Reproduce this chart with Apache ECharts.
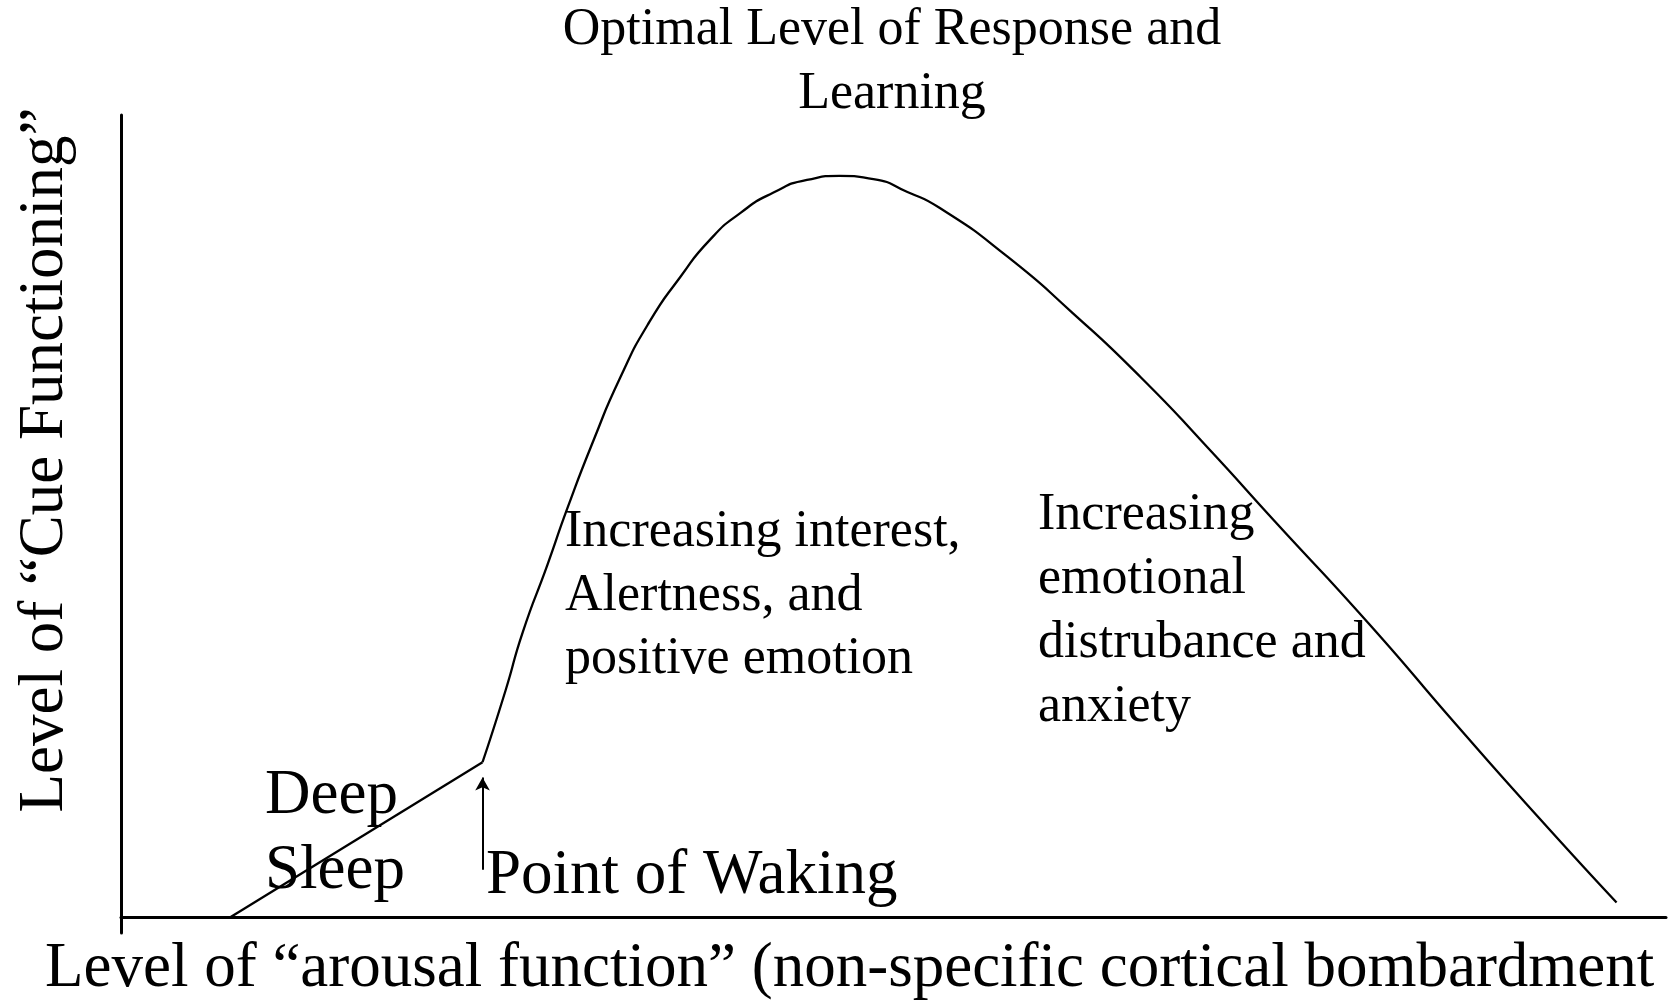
<!DOCTYPE html>
<html>
<head>
<meta charset="utf-8">
<title>Arousal and cue functioning</title>
<script src="https://cdn.jsdelivr.net/npm/echarts@6/dist/echarts.min.js"></script>
<style>
html,body{margin:0;padding:0;background:#fff;}
#chart{width:1669px;height:1001px;}
</style>
</head>
<body>
<div id="chart"></div>
<script>
// level of arousal (x) vs level of cue functioning (y)
var sleepLine = [[7.1, 0], [23.4, 19.3]];
var arousalCurve = [
    [23.4, 19.3], [24.9, 28.3], [26.0, 35.5], [27.6, 43.9], [28.9, 51.0],
    [30.6, 59.5], [32.3, 67.2], [34.2, 74.2], [36.2, 79.8], [38.1, 84.4],
    [40.1, 87.8], [42.2, 90.3], [44.4, 91.9], [46.5, 92.4], [48.7, 92.0],
    [50.9, 90.4], [53.0, 88.4], [57.4, 82.3], [61.6, 75.3], [66.0, 67.3],
    [70.3, 58.6], [74.6, 49.5], [80.8, 36.5], [86.5, 23.8], [91.8, 12.3],
    [96.8, 1.8]
];
var wakingArrow = [[23.4, 5.9], [23.4, 17.4]];

var titleLines = ['Optimal Level of Response and', 'Learning'];
var xTitle = 'Level of \u201carousal function\u201d (non-specific cortical bombardment';
var yTitle = 'Level of \u201cCue Functioning\u201d';
var sleepLabel = ['Deep', 'Sleep'];
var wakingLabel = 'Point of Waking';
var interestLabel = ['Increasing interest,', 'Alertness, and', 'positive emotion'];
var anxietyLabel = ['Increasing', 'emotional', 'distrubance and', 'anxiety'];

var serif = '"Liberation Serif", "Times New Roman", serif';

var chart = echarts.init(document.getElementById('chart'));

function txt(x, y, text, size, lh, opts){
    opts = opts || {};
    return {
        type:'text',
        x:x, y:y,
        rotation:opts.rotation || 0,
        silent:true,
        style:{
            text:text,
            x:0, y:0,
            fill:'#000',
            font:size + 'px ' + serif,
            lineHeight:lh,
            textAlign:opts.align || 'left',
            textVerticalAlign:'middle'
        }
    };
}

var axisCommon = {
    type:'value',
    axisLine:{show:true, onZero:true, lineStyle:{color:'#000', width:3}},
    axisTick:{show:false},
    axisLabel:{show:false},
    splitLine:{show:false}
};

chart.setOption({
    animation:false,
    backgroundColor:'#fff',
    grid:{left:121, right:3, top:115, bottom:68},
    xAxis:Object.assign({}, axisCommon, {min:0, max:100}),
    yAxis:Object.assign({}, axisCommon, {min:-2, max:100}),
    series:[
        {
            type:'line',
            data:sleepLine,
            symbol:'none',
            lineStyle:{color:'#000', width:2.3}
        },
        {
            type:'line',
            data:arousalCurve,
            smooth:0.6,
            symbol:'none',
            lineStyle:{color:'#000', width:2.3}
        },
        {
            type:'line',
            data:[],
            markLine:{
                silent:true,
                symbol:['none', 'arrow'],
                symbolSize:[11, 13],
                label:{show:false},
                lineStyle:{color:'#000', width:2, type:'solid'},
                data:[[{coord:wakingArrow[0]}, {coord:wakingArrow[1]}]]
            }
        }
    ],
    graphic:[
        txt(892, 62, titleLines.join('\n'), 52, 64, {align:'center'}),
        txt(45, 969, xTitle, 63, 63),
        txt(45, 460, yTitle, 63, 63, {align:'center', rotation:Math.PI / 2}),
        txt(265, 834, sleepLabel.join('\n'), 63, 75),
        txt(486, 876, wakingLabel, 63, 63),
        txt(565, 596, interestLabel.join('\n'), 52, 63.5),
        txt(1038, 611, anxietyLabel.join('\n'), 52, 64)
    ]
});
</script>
</body>
</html>
